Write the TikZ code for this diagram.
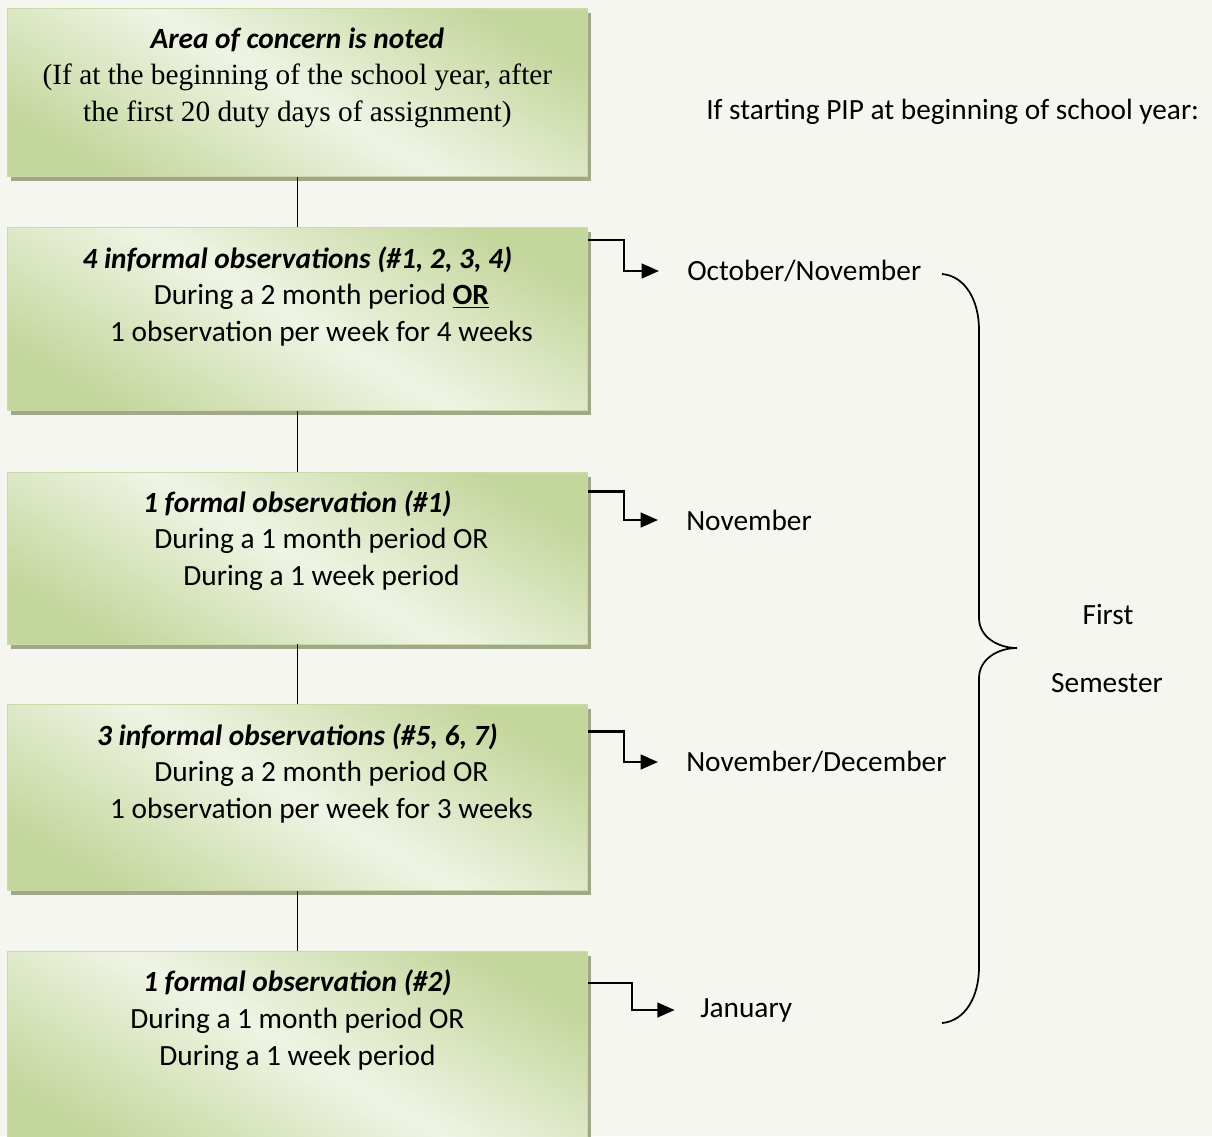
\documentclass[tikz,border=0pt]{standalone}
\usepackage{fontspec}
\setmainfont{Carlito}
\newfontfamily\serifrm{Liberation Serif}
\usetikzlibrary{arrows.meta, positioning, calc, shadows}
\definecolor{pagebg}{HTML}{F6F6F1}
\definecolor{stepdark}{HTML}{C3D69B}
\definecolor{steplight}{HTML}{EFF4E4}
\definecolor{stepedge}{HTML}{C9DAA8}
\definecolor{stepshadow}{HTML}{A2A78C}
\pgfdeclareverticalshading{stepfade}{100bp}{color(0bp)=(stepdark); color(24bp)=(stepdark);
  color(50bp)=(steplight); color(76bp)=(stepdark); color(100bp)=(stepdark)}

\begin{document}
\begin{tikzpicture}[
  x=0.75pt, y=-0.75pt,
  stepbox/.style={draw=stepedge, line width=0.6pt, shading=stepfade, shading angle=-30,
                  minimum width=435pt, inner sep=0pt,
                  drop shadow={shadow xshift=2.5pt, shadow yshift=-3.5pt,
                               fill=stepshadow, opacity=1}},
  steptext/.style={align=center, inner sep=0pt, font=\fontsize{22}{27.5}\selectfont},
  month/.style={inner sep=0pt, font=\fontsize{22}{27}\selectfont},
  link/.style={draw, line width=1pt},
  elbow/.style={draw, line width=1.8pt, -{Triangle[length=13pt, width=11pt]}},
  brace/.style={draw, line width=1.3pt}
]
  \fill[pagebg] (0,0) rectangle (1212,1136);
  \useasboundingbox (0,0) rectangle (1212,1136);

  % steps of the plan
  \node[stepbox, minimum height=126pt, anchor=north west] (B1) at (7,8) {};
  \node[stepbox, minimum height=137.25pt, below=37.5pt of B1] (B2) {};
  \node[stepbox, minimum height=129pt, below=45.75pt of B2] (B3) {};
  \node[stepbox, minimum height=139.5pt, below=45pt of B3] (B4) {};
  \node[stepbox, minimum height=150pt, below=45pt of B4] (B5) {};

  \node[steptext, below=14.5pt of B1.north] (T1) {{\bfseries\itshape Area of concern is noted}\\
    {\serifrm (If at the beginning of the school year, after}\\
    {\serifrm the first 20 duty days of assignment)}};
  \node[steptext, below=14.5pt of B2.north] (T2) {{\bfseries\itshape 4 informal observations (\#1, 2, 3, 4)}\\
    \hspace*{36pt}During a 2 month period \underline{\textbf{OR}}\\
    \hspace*{36pt}1 observation per week for 4 weeks};
  \node[steptext, below=14pt of B3.north] (T3) {{\bfseries\itshape 1 formal observation (\#1)}\\
    \hspace*{36pt}During a 1 month period OR\\
    \hspace*{36pt}During a 1 week period};
  \node[steptext, below=14pt of B4.north] (T4) {{\bfseries\itshape 3 informal observations (\#5, 6, 7)}\\
    \hspace*{36pt}During a 2 month period OR\\
    \hspace*{36pt}1 observation per week for 3 weeks};
  \node[steptext, below=14pt of B5.north] (T5) {{\bfseries\itshape 1 formal observation (\#2)}\\
    During a 1 month period OR\\
    During a 1 week period};

  \draw[link] (B1) -- (B2);
  \draw[link] (B2) -- (B3);
  \draw[link] (B3) -- (B4);
  \draw[link] (B4) -- (B5);

  % timeline
  \node[month, anchor=west] (pip) at (706,112) {If starting PIP at beginning of school year:};
  \node[month, anchor=west] (M2) at (687,271) {October/November};
  \node[month, anchor=west] (M3) at (686,520) {November};
  \node[month, anchor=west] (M4) at (686,762) {November/December};
  \node[month, anchor=west] (M5) at (700,1010) {January};

  \draw[elbow, shorten >=21pt] ($(B2.north east)+(0,13)$) -- ++(36,0) |- (M2.west);
  \draw[elbow, shorten >=21pt] ($(B3.north east)+(0,20)$) -- ++(36,0) |- (M3.west);
  \draw[elbow, shorten >=21pt] ($(B4.north east)+(0,27)$) -- ++(36,0) |- (M4.west);
  \draw[elbow, shorten >=19pt] ($(B5.north east)+(0,32)$) -- ++(44,0) |- (M5.west);

  \draw[brace] (942,274) .. controls (965,276) and (979,300) .. (979,330) -- (979,618)
    .. controls (979,637) and (998,648) .. (1017,648)
    .. controls (998,648) and (979,659) .. (979,678) -- (979,967)
    .. controls (979,997) and (965,1021) .. (942,1023);
  \node[month] (first) at (1108,615) {First};
  \node[month] (sem) at (1107,683) {Semester};
\end{tikzpicture}
\end{document}
